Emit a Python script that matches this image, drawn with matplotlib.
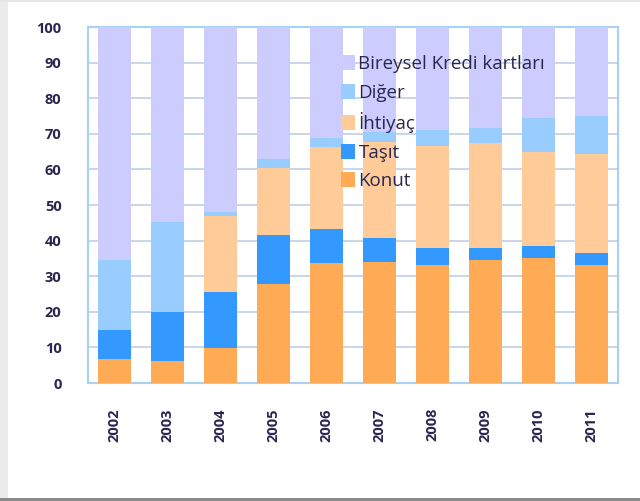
import numpy as np
import matplotlib
matplotlib.use("Agg")
import matplotlib.pyplot as plt
from matplotlib.patches import Rectangle

years = ["2002", "2003", "2004", "2005", "2006", "2007", "2008", "2009", "2010", "2011"]

# stacked shares, %
konut = [6.8, 6.1, 9.8, 27.9, 33.8, 34.1, 33.2, 34.5, 35.2, 33.2]
tasit = [8.2, 13.8, 15.8, 13.8, 9.6, 6.6, 4.7, 3.4, 3.2, 3.4]
ihtiyac = [0.0, 0.0, 21.3, 18.7, 22.9, 27.0, 28.6, 29.6, 26.5, 27.6]
diger = [19.5, 25.3, 1.1, 2.6, 2.5, 2.8, 4.5, 4.1, 9.6, 10.8]
kredi_karti = [100 - (a + b + c + d) for a, b, c, d in zip(konut, tasit, ihtiyac, diger)]

series = [
    ("Konut", konut, "#FFAA55"),
    ("Taşıt", tasit, "#3399FF"),
    ("İhtiyaç", ihtiyac, "#FFCC99"),
    ("Diğer", diger, "#99CCFF"),
    ("Bireysel Kredi kartları", kredi_karti, "#CCCCFF"),
]

text_color = "#2A2650"

fig = plt.figure(figsize=(6.4, 5.01), dpi=100)
ax = fig.add_axes([0.1375, 0.2355, 0.828, 0.7105])

x = np.arange(len(years))
bottom = np.zeros(len(years))
handles = []
for name, vals, col in series:
    vals = np.array(vals)
    h = ax.bar(x, vals, 0.62, bottom=bottom, color=col, label=name, zorder=3)
    handles.append(h)
    bottom += vals

ax.set_ylim(0, 100)
ax.set_xlim(-0.5, len(years) - 0.5)
ax.set_yticks(range(0, 101, 10))
ax.set_xticks(x)
ax.set_xticklabels(years, rotation=90)
ax.yaxis.grid(True, color="#C5D3E6", linewidth=1.3, zorder=0)
ax.set_axisbelow(True)
for sp in ax.spines.values():
    sp.set_color("#A9D0F5")
    sp.set_linewidth(1.5)
ax.tick_params(axis="both", length=0, colors=text_color, labelsize=10.5)
ax.tick_params(axis="y", pad=19)
ax.tick_params(axis="x", pad=18)
for lab in ax.get_xticklabels() + ax.get_yticklabels():
    lab.set_fontweight("bold")
    lab.set_family("Open Sans")

leg = ax.legend(handles[::-1], [s[0] for s in series][::-1],
                loc="upper left", bbox_to_anchor=(0.46, 0.947),
                frameon=False, fontsize=13.5, handlelength=0.72, handleheight=0.82,
                handletextpad=0.2, labelspacing=0.56, borderpad=0)
for t in leg.get_texts():
    t.set_color(text_color)
    t.set_family("Open Sans")

# page edges of the screenshot
fig.patches.append(Rectangle((0, 0), 8 / 640, 1, transform=fig.transFigure,
                             facecolor="#EBEBEB", edgecolor="none", zorder=-1))
fig.patches.append(Rectangle((0, 0), 1, 3 / 501, transform=fig.transFigure,
                             facecolor="#8A8A8A", edgecolor="none", zorder=-1))
fig.patches.append(Rectangle((0, 1 - 2 / 501), 1, 2 / 501, transform=fig.transFigure,
                             facecolor="#E6E6E6", edgecolor="none", zorder=-1))

fig.savefig("out.png", dpi=100)
